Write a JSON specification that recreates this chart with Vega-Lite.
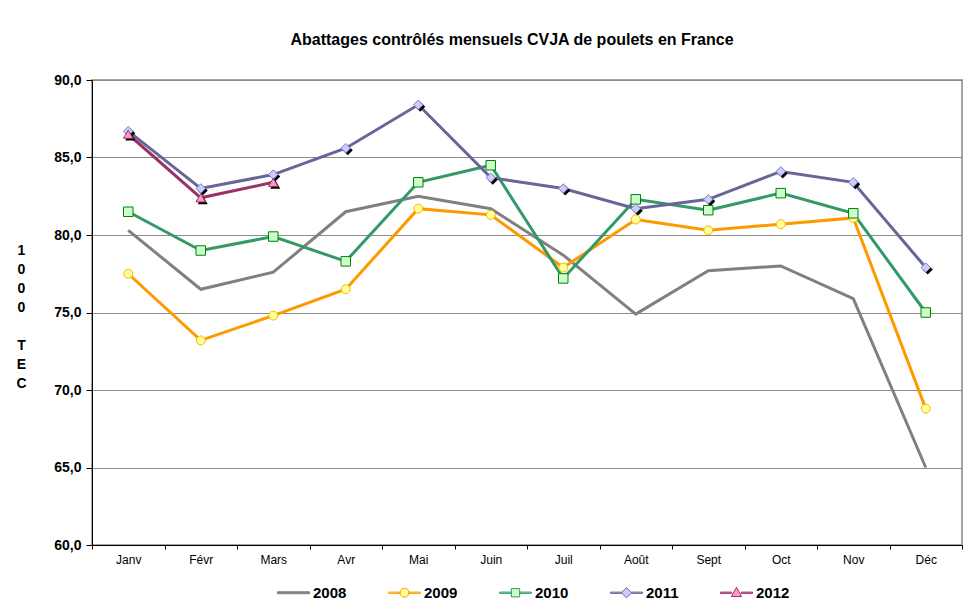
{
  "$schema": "https://vega.github.io/schema/vega-lite/v6.json",
  "width": 870,
  "height": 465,
  "autosize": {"type": "none"},
  "padding": {"left": 92, "top": 80, "right": 5, "bottom": 66},
  "background": "white",
  "title": {
    "text": "Abattages contrôlés mensuels CVJA de poulets en France",
    "font": "Liberation Sans",
    "fontSize": 16,
    "fontWeight": "bold",
    "color": "black",
    "anchor": "middle",
    "dx": -15,
    "offset": 25
  },
  "config": {
    "view": {"stroke": "#a6a6a6", "strokeWidth": 2},
    "font": "Liberation Sans"
  },
  "data": {
    "values": [
      {"month": "Janv", "year": "2008", "value": 80.3},
      {"month": "Févr", "year": "2008", "value": 76.5},
      {"month": "Mars", "year": "2008", "value": 77.6},
      {"month": "Avr", "year": "2008", "value": 81.5},
      {"month": "Mai", "year": "2008", "value": 82.5},
      {"month": "Juin", "year": "2008", "value": 81.7},
      {"month": "Juil", "year": "2008", "value": 78.7},
      {"month": "Août", "year": "2008", "value": 74.9},
      {"month": "Sept", "year": "2008", "value": 77.7},
      {"month": "Oct", "year": "2008", "value": 78.0},
      {"month": "Nov", "year": "2008", "value": 75.9},
      {"month": "Déc", "year": "2008", "value": 65.0},
      {"month": "Janv", "year": "2009", "value": 77.5},
      {"month": "Févr", "year": "2009", "value": 73.2},
      {"month": "Mars", "year": "2009", "value": 74.8},
      {"month": "Avr", "year": "2009", "value": 76.5},
      {"month": "Mai", "year": "2009", "value": 81.7},
      {"month": "Juin", "year": "2009", "value": 81.3},
      {"month": "Juil", "year": "2009", "value": 77.9},
      {"month": "Août", "year": "2009", "value": 81.0},
      {"month": "Sept", "year": "2009", "value": 80.3},
      {"month": "Oct", "year": "2009", "value": 80.7},
      {"month": "Nov", "year": "2009", "value": 81.1},
      {"month": "Déc", "year": "2009", "value": 68.8},
      {"month": "Janv", "year": "2010", "value": 81.5},
      {"month": "Févr", "year": "2010", "value": 79.0},
      {"month": "Mars", "year": "2010", "value": 79.9},
      {"month": "Avr", "year": "2010", "value": 78.3},
      {"month": "Mai", "year": "2010", "value": 83.4},
      {"month": "Juin", "year": "2010", "value": 84.5},
      {"month": "Juil", "year": "2010", "value": 77.2},
      {"month": "Août", "year": "2010", "value": 82.3},
      {"month": "Sept", "year": "2010", "value": 81.6},
      {"month": "Oct", "year": "2010", "value": 82.7},
      {"month": "Nov", "year": "2010", "value": 81.4},
      {"month": "Déc", "year": "2010", "value": 75.0},
      {"month": "Janv", "year": "2011", "value": 86.7},
      {"month": "Févr", "year": "2011", "value": 83.0},
      {"month": "Mars", "year": "2011", "value": 83.9},
      {"month": "Avr", "year": "2011", "value": 85.6},
      {"month": "Mai", "year": "2011", "value": 88.4},
      {"month": "Juin", "year": "2011", "value": 83.7},
      {"month": "Juil", "year": "2011", "value": 83.0},
      {"month": "Août", "year": "2011", "value": 81.7},
      {"month": "Sept", "year": "2011", "value": 82.3},
      {"month": "Oct", "year": "2011", "value": 84.1},
      {"month": "Nov", "year": "2011", "value": 83.4},
      {"month": "Déc", "year": "2011", "value": 77.9},
      {"month": "Janv", "year": "2012", "value": 86.5},
      {"month": "Févr", "year": "2012", "value": 82.4},
      {"month": "Mars", "year": "2012", "value": 83.4}
    ]
  },
  "encoding": {
    "x": {
      "field": "month",
      "type": "nominal",
      "sort": ["Janv", "Févr", "Mars", "Avr", "Mai", "Juin", "Juil", "Août", "Sept", "Oct", "Nov", "Déc"],
      "scale": {"type": "band", "paddingInner": 0, "paddingOuter": 0},
      "bandPosition": 0.5,
      "axis": {
        "title": null,
        "labelAngle": 0,
        "labelFont": "Liberation Sans",
        "labelFontSize": 12,
        "labelColor": "black",
        "domainColor": "black",
        "tickColor": "black",
        "tickSize": 4,
        "labelPadding": 5,
        "tickBand": "extent",
        "grid": false
      }
    },
    "y": {
      "field": "value",
      "type": "quantitative",
      "scale": {"domain": [60, 90], "zero": false, "nice": false},
      "axis": {
        "values": [60, 65, 70, 75, 80, 85, 90],
        "labelExpr": "replace(format(datum.value, '.1f'), '.', ',')",
        "labelFont": "Liberation Sans",
        "labelFontSize": 14,
        "labelFontWeight": "bold",
        "labelColor": "black",
        "domainColor": "black",
        "tickColor": "black",
        "tickSize": 6,
        "labelPadding": 5,
        "grid": true,
        "gridColor": "#8c8c8c",
        "gridWidth": 1,
        "title": ["1", "0", "0", "0", "\u200b", "T", "E", "C"],
        "titleAngle": 0,
        "titleFont": "Liberation Sans",
        "titleFontSize": 14,
        "titleFontWeight": "bold",
        "titleColor": "black",
        "titleLineHeight": 19,
        "titleAlign": "center",
        "titleBaseline": "middle",
        "titleX": -71,
        "titleY": 170
      }
    }
  },
  "layer": [
    {
      "mark": {"type": "line", "strokeWidth": 3},
      "encoding": {
        "color": {
          "field": "year",
          "type": "nominal",
          "scale": {
            "domain": ["2008", "2009", "2010", "2011", "2012"],
            "range": ["#808080", "#FF9900", "#339966", "#666699", "#993366"]
          },
          "legend": {
            "title": null,
            "orient": "none",
            "direction": "horizontal",
            "legendX": 185,
            "legendY": 496,
            "padding": 0,
            "symbolSize": 1024,
            "symbolStrokeWidth": 1,
            "labelFont": "Liberation Sans",
            "labelFontSize": 15,
            "labelFontWeight": "bold",
            "labelColor": "black",
            "labelOffset": 3,
            "columnPadding": 39,
            "encode": {
              "symbols": {
                "update": {
                  "shape": {"signal": "datum.value == '2008' ? 'M-1,-0.06H1V0.06H-1Z' : datum.value == '2009' ? 'M-1,-0.04H-0.28V0.04H-1Z M0.28,-0.04H1V0.04H0.28Z M-0.28,0A0.28,0.28 0 1,0 0.28,0A0.28,0.28 0 1,0 -0.28,0Z' : datum.value == '2010' ? 'M-1,-0.04H-0.26V0.04H-1Z M0.26,-0.04H1V0.04H0.26Z M-0.26,-0.26H0.26V0.26H-0.26Z' : datum.value == '2011' ? 'M-1,-0.04H-0.32V0.04H-1Z M0.32,-0.04H1V0.04H0.32Z M-0.32,0L0,-0.32L0.32,0L0,0.32Z' : 'M-1,-0.04H-0.3V0.04H-1Z M0.3,-0.04H1V0.04H0.3Z M0,-0.34L0.32,0.24H-0.32Z'"},
                  "fill": {"signal": "datum.value == '2008' ? '#808080' : datum.value == '2009' ? '#FFFF99' : datum.value == '2010' ? '#CCFFCC' : datum.value == '2011' ? '#CCCCFF' : '#FF99CC'"},
                  "stroke": {"signal": "datum.value == '2008' ? '#808080' : datum.value == '2009' ? '#FF9900' : datum.value == '2010' ? '#339966' : datum.value == '2011' ? '#666699' : '#993366'"},
                  "strokeWidth": {"value": 1},
                  "opacity": {"value": 1}
                }
              }
            }
          }
        },
        "strokeWidth": {
          "condition": {"test": "datum.year == '2008'", "value": 2},
          "value": 3
        }
      }
    },
    {
      "transform": [{"filter": "datum.year == '2011' || datum.year == '2012'"}],
      "mark": {"type": "point", "filled": true, "opacity": 1, "xOffset": 2, "yOffset": 2, "color": "black"},
      "encoding": {
        "shape": {
          "field": "year",
          "type": "nominal",
          "scale": {"domain": ["2011", "2012"], "range": ["diamond", "triangle-up"]},
          "legend": null
        },
        "size": {"value": 100}
      }
    },
    {
      "transform": [{"filter": "datum.year != '2008'"}],
      "mark": {"type": "point", "filled": false, "opacity": 1, "strokeWidth": 1},
      "encoding": {
        "shape": {
          "field": "year",
          "type": "nominal",
          "scale": {"domain": ["2009", "2010", "2011", "2012"], "range": ["circle", "square", "diamond", "triangle-up"]},
          "legend": null
        },
        "fill": {
          "field": "year",
          "type": "nominal",
          "scale": {"domain": ["2009", "2010", "2011", "2012"], "range": ["#FFFF99", "#CCFFCC", "#CCCCFF", "#FF99CC"]},
          "legend": null
        },
        "stroke": {
          "field": "year",
          "type": "nominal",
          "scale": {"domain": ["2009", "2010", "2011", "2012"], "range": ["#F5B800", "#008000", "#8080C0", "#993366"]},
          "legend": null
        },
        "size": {
          "condition": {"test": "datum.year == '2009'", "value": 80},
          "value": 90
        }
      }
    }
  ],
  "resolve": {"scale": {"shape": "independent"}}
}
